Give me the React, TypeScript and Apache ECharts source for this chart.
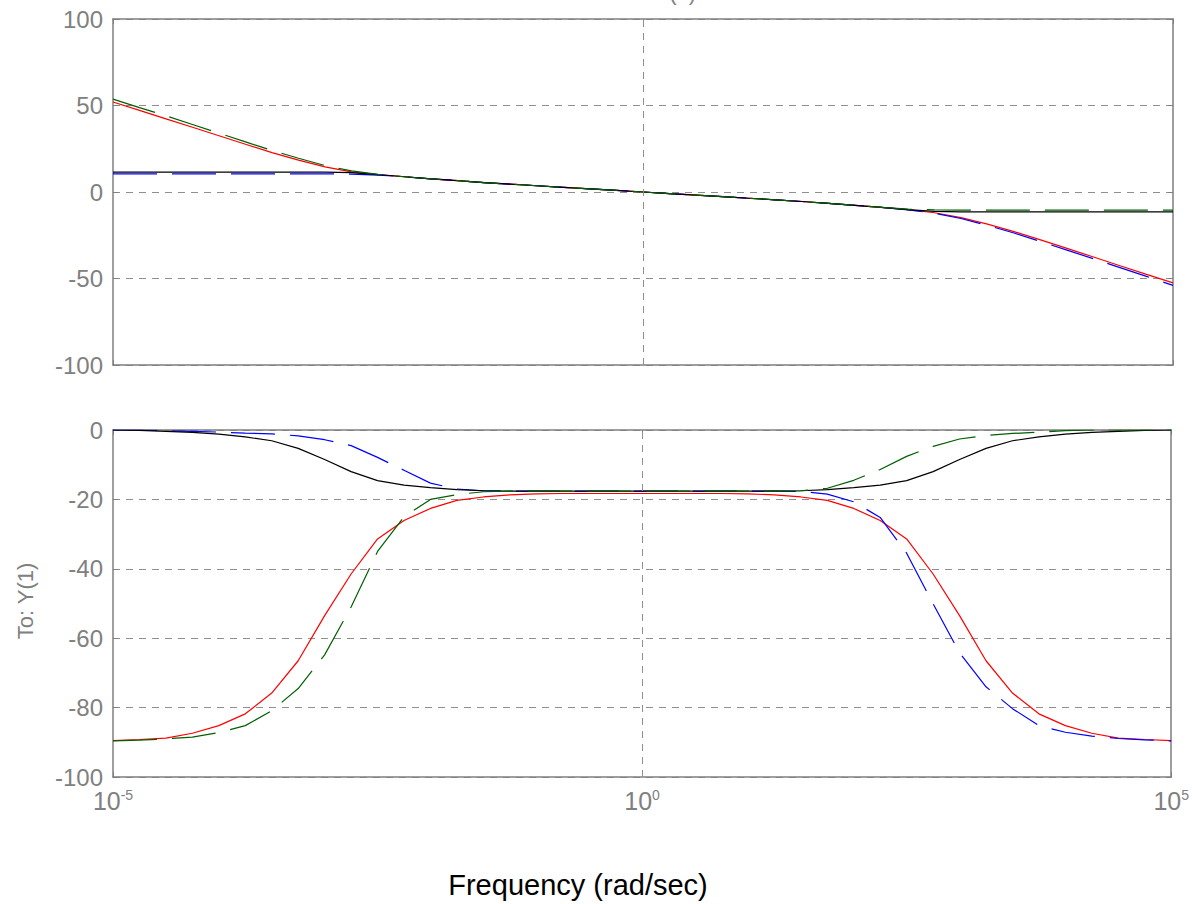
import { useEffect, useRef } from "react";
import * as echarts from "echarts";

// Sampling grid: decade exponents of the frequency (rad/sec)
const freqExponents = [
  -5, -4.75, -4.5, -4.25, -4, -3.75, -3.5, -3.25, -3, -2.75, -2.5, -2.25, -2, -1.75, -1.5, -1.25, -1, -0.75, -0.5, -0.25,
  0, 0.25, 0.5, 0.75, 1, 1.25, 1.5, 1.75, 2, 2.25, 2.5, 2.75, 3, 3.25, 3.5, 3.75, 4, 4.25, 4.5, 4.75, 5,
];
const frequencies = freqExponents.map((e) => Math.pow(10, e));

// Magnitude (dB)
const magRed = [
  52, 47.2, 42.3, 37.4, 32.5, 27.6, 22.8, 18.4, 14.5, 11.6, 10.0, 8.8, 7.6, 6.6, 5.4, 4.5, 3.6, 2.7, 1.8, 0.9,
  0, -0.9, -1.8, -2.7, -3.6, -4.5, -5.5, -6.6, -7.7, -8.9, -10.2, -12.0, -14.8, -18.6, -22.9, -27.7, -32.6, -37.6, -42.6, -47.6, -52.5,
];
const magBlue = [
  10.5, 10.5, 10.5, 10.5, 10.5, 10.5, 10.5, 10.5, 10.5, 10.3, 9.8, 8.8, 7.6, 6.6, 5.4, 4.5, 3.6, 2.7, 1.8, 0.9,
  0, -0.9, -1.8, -2.7, -3.6, -4.5, -5.5, -6.6, -7.7, -8.9, -10.3, -12.3, -15.3, -19.3, -23.7, -28.6, -33.6, -38.6, -43.7, -48.8, -54,
];
const magBlack = [
  11.5, 11.5, 11.5, 11.5, 11.5, 11.5, 11.5, 11.5, 11.5, 11.2, 10.1, 8.8, 7.6, 6.6, 5.4, 4.5, 3.6, 2.7, 1.8, 0.9,
  0, -0.9, -1.8, -2.7, -3.6, -4.5, -5.5, -6.6, -7.7, -8.9, -10.2, -11.2, -11.5, -11.5, -11.5, -11.5, -11.5, -11.5, -11.5, -11.5, -11.5,
];
const magGreen = [
  53.7, 48.8, 44.0, 39.0, 34.0, 29.0, 24.0, 19.5, 15.3, 12.2, 10.2, 8.8, 7.6, 6.6, 5.4, 4.5, 3.6, 2.7, 1.8, 0.9,
  0, -0.9, -1.8, -2.7, -3.6, -4.5, -5.5, -6.6, -7.7, -8.9, -9.9, -10.3, -10.5, -10.5, -10.5, -10.5, -10.5, -10.5, -10.5, -10.5, -10.5,
];

// Phase (deg)
const phaseRed = [
  -89.5, -89.2, -88.8, -87.4, -85.2, -81.8, -75.8, -66.5, -53.5, -41.5, -31.4, -26.1, -22.6, -20.3, -19.3, -18.7, -18.4, -18.3, -18.3, -18.3,
  -18.3, -18.3, -18.3, -18.3, -18.4, -18.7, -19.3, -20.3, -22.6, -26.1, -31.4, -41.5, -53.5, -66.5, -75.8, -81.8, -85.2, -87.4, -88.8, -89.2, -89.5,
];
const phaseBlue = [
  0, 0, -0.2, -0.4, -0.6, -0.9, -1.1, -1.7, -2.8, -4.5, -7.9, -11.6, -15.3, -17.0, -17.5, -17.6, -17.6, -17.6, -17.6, -17.6,
  -17.6, -17.6, -17.6, -17.6, -17.6, -17.6, -17.7, -18.5, -20.7, -25.2, -35.5, -50.1, -64.2, -74.0, -80.3, -85.2, -87.1, -88.2, -88.9, -89.3, -89.6,
];
const phaseBlack = [
  0, -0.1, -0.4, -0.7, -1.2, -2.0, -3.1, -5.3, -8.5, -12.0, -14.6, -15.9, -16.6, -17.2, -17.5, -17.6, -17.6, -17.6, -17.6, -17.6,
  -17.6, -17.6, -17.6, -17.6, -17.6, -17.6, -17.5, -17.2, -16.6, -15.9, -14.6, -12.0, -8.5, -5.3, -3.1, -2.0, -1.2, -0.7, -0.4, -0.1, 0,
];
const phaseGreen = [
  -89.6, -89.4, -89.0, -88.5, -87.2, -85.2, -80.9, -74.5, -64.8, -51.0, -35.0, -25.0, -20.0, -18.6, -17.8, -17.6, -17.6, -17.6, -17.6, -17.6,
  -17.6, -17.6, -17.6, -17.6, -17.6, -17.6, -17.5, -16.8, -14.5, -11.4, -7.6, -4.7, -2.6, -1.6, -1.0, -0.6, -0.2, 0, 0, 0, 0,
];

const xLabelExponents = [-5, 0, 5];
const titleText = "From: U(1)";
const yTitleText = "To: Y(1)";
const xTitleText = "Frequency (rad/sec)";

const AXIS = "#7f7f7f";
const GRID = "#8f8f8f";
const LABEL = "#808080";
const SANS = "'Liberation Sans', Arial, Helvetica, sans-serif";
const NARROW = "'Liberation Sans Narrow', 'Liberation Sans', Arial, sans-serif";
const DASH = [44, 15];
const GRID_DASH = [7, 6];

export default function App() {
  const ref = useRef<HTMLDivElement>(null);

  useEffect(() => {
    if (!ref.current) return;
    const chart = echarts.init(ref.current, undefined, { renderer: "svg" });

    const pts = (arr: number[]) => frequencies.map((f, i) => [f, arr[i]]);

    const baseX = {
      type: "log" as const,
      logBase: 10,
      min: 1e-5,
      max: 1e5,
      splitNumber: 10,
      splitLine: { show: false },
      minorTick: { show: false },
      axisLine: { show: true, onZero: false, lineStyle: { color: AXIS, width: 1.5 } },
      axisTick: { show: true, inside: true, length: 5, lineStyle: { color: AXIS, width: 1 } },
    };

    const xLabel = {
      show: true,
      margin: 11,
      formatter: (v: number) => {
        const e = Math.round(Math.log10(v));
        if (xLabelExponents.indexOf(e) < 0) return "";
        return `{b|10}{s|${e}}`;
      },
      rich: {
        b: { fontSize: 25, lineHeight: 26, color: LABEL, fontFamily: NARROW },
        s: { fontSize: 14, lineHeight: 14, color: LABEL, fontFamily: NARROW, verticalAlign: "top" },
      },
    };

    const baseY = (min: number, max: number, interval: number) => ({
      type: "value" as const,
      min,
      max,
      interval,
      axisLine: { show: true, onZero: false, lineStyle: { color: AXIS, width: 1.5 } },
      axisTick: { show: true, inside: true, length: 5, lineStyle: { color: AXIS } },
    });

    const yLabel = { color: LABEL, fontSize: 24, margin: 10, fontFamily: SANS };
    const yGrid = { show: true, lineStyle: { type: GRID_DASH, color: GRID, width: 1 } };

    const vLine = {
      silent: true,
      symbol: "none",
      label: { show: false },
      lineStyle: { type: GRID_DASH, color: GRID, width: 1 },
      data: [{ xAxis: 1 }],
    };

    const line = (
      name: string,
      arr: number[],
      color: string,
      dashed: boolean,
      grid: number,
      withMark: boolean
    ) => ({
      name,
      type: "line" as const,
      xAxisIndex: grid === 0 ? 0 : 2,
      yAxisIndex: grid === 0 ? 0 : 2,
      data: pts(arr),
      showSymbol: false,
      symbol: "none",
      smooth: false,
      clip: true,
      lineStyle: { color, width: 1.2, type: dashed ? DASH : "solid" },
      ...(withMark ? { markLine: vLine } : {}),
    });

    chart.setOption({
      animation: false,
      backgroundColor: "#ffffff",
      grid: [
        { left: 113, top: 19, width: 1060, height: 346 },
        { left: 113, top: 430, width: 1060, height: 347 },
      ],
      xAxis: [
        { ...baseX, gridIndex: 0, position: "bottom", axisLabel: { show: false } },
        { ...baseX, gridIndex: 0, position: "top", axisLabel: { show: false } },
        { ...baseX, gridIndex: 1, position: "bottom", axisLabel: xLabel },
        { ...baseX, gridIndex: 1, position: "top", axisLabel: { show: false } },
      ],
      yAxis: [
        { ...baseY(-100, 100, 50), gridIndex: 0, position: "left", axisLabel: yLabel, splitLine: yGrid },
        { ...baseY(-100, 100, 50), gridIndex: 0, position: "right", axisLabel: { show: false }, splitLine: { show: false } },
        { ...baseY(-100, 0, 20), gridIndex: 1, position: "left", axisLabel: yLabel, splitLine: yGrid },
        { ...baseY(-100, 0, 20), gridIndex: 1, position: "right", axisLabel: { show: false }, splitLine: { show: false } },
      ],
      graphic: [
        {
          type: "text",
          x: 643,
          y: 3,
          style: { text: titleText, fill: LABEL, font: `22px ${SANS}`, align: "center", verticalAlign: "bottom" },
        },
        {
          type: "text",
          x: 25,
          y: 601,
          rotation: Math.PI / 2,
          style: { text: yTitleText, fill: LABEL, font: `22px ${SANS}`, align: "center", verticalAlign: "middle" },
        },
        {
          type: "text",
          x: 578,
          y: 885,
          style: { text: xTitleText, fill: "#000000", font: `29px ${SANS}`, align: "center", verticalAlign: "middle" },
        },
      ],
      series: [
        line("mag-red", magRed, "#ff0000", false, 0, true),
        line("mag-blue", magBlue, "#0000ff", true, 0, false),
        line("mag-black", magBlack, "#000000", false, 0, false),
        line("mag-green", magGreen, "#005f00", true, 0, false),
        line("phase-red", phaseRed, "#ff0000", false, 1, true),
        line("phase-blue", phaseBlue, "#0000ff", true, 1, false),
        line("phase-black", phaseBlack, "#000000", false, 1, false),
        line("phase-green", phaseGreen, "#005f00", true, 1, false),
      ],
    });

    return () => chart.dispose();
  }, []);

  return (
    <div
      ref={ref}
      style={{ position: "fixed", left: 0, top: 0, width: 1192, height: 904, background: "#fff" }}
    />
  );
}
